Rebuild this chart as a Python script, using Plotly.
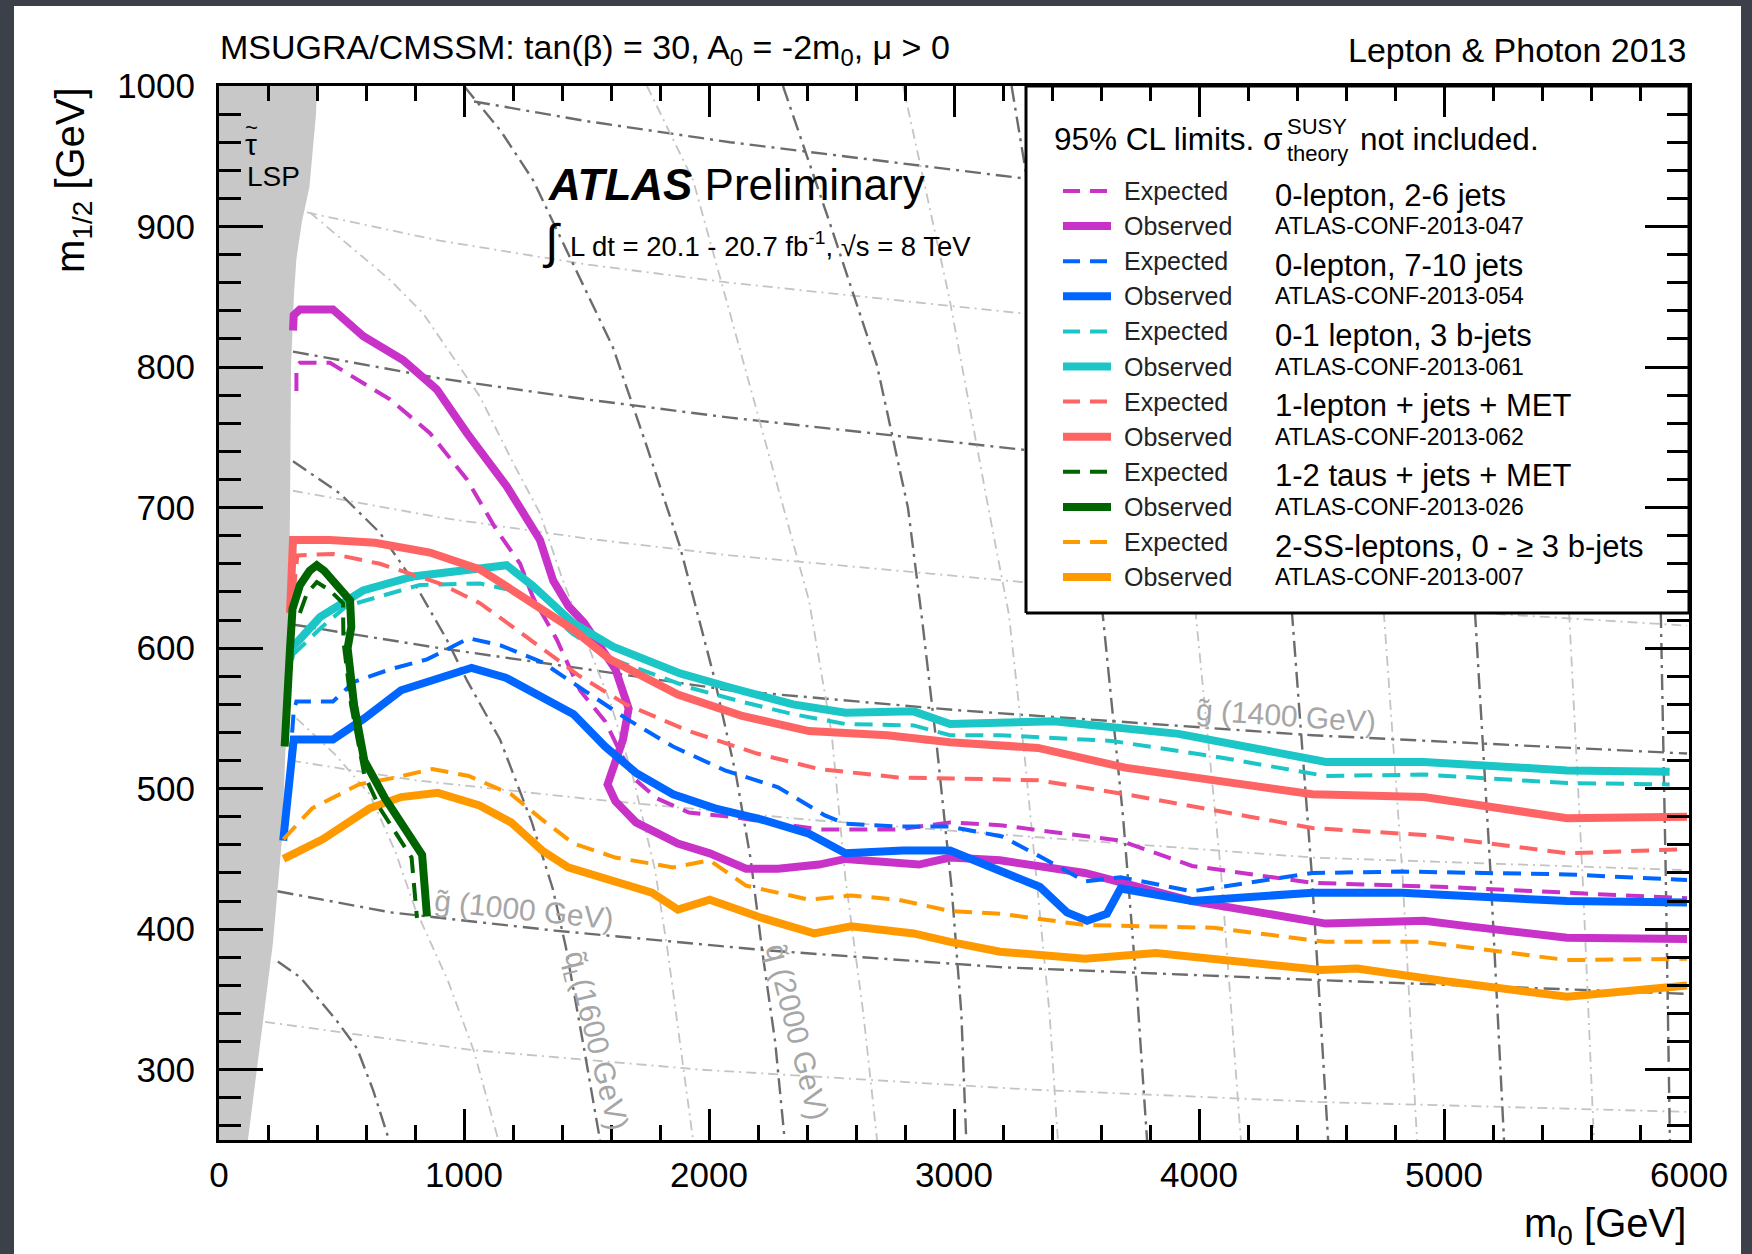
import plotly.graph_objects as go

# ---------------- exclusion contours: m0 [GeV] vs m1/2 [GeV] ----------------
# 0-lepton, 2-6 jets (ATLAS-CONF-2013-047)
exp_047_m0 = [316, 316, 330, 453, 698, 861, 1012, 1133, 1229, 1282, 1379, 1473, 1576, 1640, 1702, 1788, 1918, 2088, 2449, 2771, 2984, 3188, 3680, 3972, 4463, 5008, 5992]
exp_047_m12 = [783, 800, 803, 803, 777, 753, 720, 684, 660, 636, 606, 570, 548, 525, 506, 493, 483, 480, 471, 471, 476, 474, 463, 445, 433, 430, 422]
obs_047_m0 = [302, 305, 330, 465, 589, 751, 889, 1012, 1175, 1310, 1364, 1426, 1490, 1618, 1672, 1649, 1586, 1618, 1702, 1873, 2003, 2151, 2282, 2449, 2557, 2857, 2984, 3188, 3534, 3972, 4518, 4918, 5102, 5502, 5992]
obs_047_m12 = [826, 837, 841, 841, 822, 805, 784, 753, 715, 677, 648, 630, 618, 585, 557, 535, 503, 491, 476, 461, 454, 443, 443, 446, 450, 446, 451, 449, 440, 420, 404, 406, 402, 394, 393]

# 0-lepton, 7-10 jets (ATLAS-CONF-2013-054)
exp_054_m0 = [290, 305, 316, 465, 551, 700, 849, 1020, 1149, 1319, 1490, 1661, 1853, 2065, 2282, 2473, 2557, 2771, 2984, 3196, 3370, 3535, 3680, 3972, 4463, 4829, 5502, 5992]
exp_054_m12 = [520, 555, 562, 562, 576, 585, 592, 607, 602, 590, 570, 550, 530, 513, 501, 481, 475, 473, 473, 466, 450, 434, 437, 427, 440, 441, 439, 435]
obs_054_m0 = [262, 280, 305, 465, 593, 743, 893, 1031, 1170, 1319, 1447, 1576, 1704, 1853, 2024, 2216, 2408, 2557, 2792, 2984, 3155, 3351, 3461, 3543, 3624, 3680, 3972, 4463, 4829, 5502, 5992]
obs_054_m12 = [463, 500, 535, 535, 550, 570, 579, 586, 579, 565, 553, 530, 511, 496, 486, 478, 468, 454, 456, 456, 444, 430, 412, 406, 411, 429, 420, 426, 426, 420, 419]

# 0-1 lepton, 3 b-jets (ATLAS-CONF-2013-061)
exp_061_m0 = [300, 420, 521, 820, 1065, 1200, 1310, 1445, 1608, 1918, 2131, 2343, 2557, 2835, 2984, 3188, 3643, 4061, 4518, 4918, 5502, 5921]
exp_061_m12 = [595, 615, 630, 645, 646, 641, 630, 610, 592, 572, 562, 553, 546, 545, 538, 538, 534, 523, 509, 510, 504, 503]
obs_061_m0 = [290, 302, 412, 588, 792, 996, 1174, 1283, 1445, 1608, 1882, 2086, 2343, 2557, 2835, 2984, 3188, 3407, 3917, 4518, 4918, 5502, 5921]
obs_061_m12 = [592, 601, 622, 641, 651, 655, 659, 644, 618, 601, 582, 572, 560, 554, 555, 546, 547, 548, 539, 519, 519, 513, 512]

# 1-lepton + jets + MET (ATLAS-CONF-2013-062)
exp_062_m0 = [305, 320, 465, 657, 902, 1065, 1200, 1338, 1473, 1661, 1918, 2196, 2449, 2771, 3090, 3343, 3735, 4463, 4918, 5502, 5992]
exp_062_m12 = [640, 666, 667, 660, 646, 632, 615, 597, 580, 560, 541, 525, 514, 508, 507, 506, 495, 472, 467, 454, 457]
obs_062_m0 = [290, 302, 453, 637, 861, 1065, 1200, 1319, 1447, 1596, 1873, 2131, 2408, 2727, 2984, 3343, 3698, 4463, 4918, 5502, 5992]
obs_062_m12 = [625, 677, 677, 675, 668, 656, 641, 628, 613, 592, 567, 552, 541, 538, 533, 529, 515, 496, 494, 479, 480]

# 1-2 taus + jets + MET (ATLAS-CONF-2013-026)
exp_026_m0 = [330, 359, 399, 453, 506, 508, 539, 593, 657, 786, 808]
exp_026_m12 = [625, 639, 647, 641, 632, 605, 560, 510, 486, 451, 408]
obs_026_m0 = [268, 275, 290, 300, 331, 370, 399, 430, 480, 535, 540, 525, 551, 593, 678, 829, 849]
obs_026_m12 = [530, 560, 600, 628, 645, 655, 659, 655, 645, 634, 615, 600, 560, 520, 493, 453, 409]

# 2-SS-leptons, 0 - >=3 b-jets (ATLAS-CONF-2013-007)
exp_007_m0 = [263, 380, 571, 722, 871, 1020, 1192, 1319, 1447, 1618, 1853, 2003, 2151, 2408, 2580, 2771, 2984, 3188, 3535, 4061, 4518, 4918, 5502, 5992]
exp_007_m12 = [464, 486, 503, 508, 514, 509, 496, 478, 461, 451, 444, 449, 431, 421, 424, 421, 413, 411, 403, 401, 391, 391, 378, 379]
obs_007_m0 = [263, 423, 615, 743, 893, 1063, 1192, 1319, 1425, 1618, 1767, 1873, 2003, 2216, 2429, 2580, 2835, 2984, 3188, 3535, 3824, 4498, 4645, 5008, 5502, 5992]
obs_007_m12 = [450, 464, 486, 494, 497, 488, 476, 456, 444, 434, 426, 414, 421, 408, 397, 402, 397, 391, 384, 379, 383, 371, 372, 363, 352, 360]

# ---------------- stau-LSP excluded region boundary ----------------
lsp_m0 = [0, 400, 396, 369, 338, 316, 306, 294, 290, 284, 273, 257, 220, 167, 118, 0, 0]
lsp_m12 = [1000, 1000, 980, 928, 903, 877, 852, 800, 700, 620, 535, 464, 390, 316, 250, 250, 1000]

# ---------------- iso-mass contours ----------------
g800_m0 = [188, 1033, 1971, 3300, 4500, 5992]
g800_m12 = [334, 314, 300, 286, 277, 270]
g1000_m0 = [239, 700, 1371, 2232, 3188, 4463, 5992]
g1000_m12 = [427, 412, 399, 385, 373, 364, 354]
g1200_m0 = [294, 800, 1490, 2400, 3300, 4463, 5992]
g1200_m12 = [520, 506, 493, 478, 466, 451, 442]
g1400_m0 = [294, 900, 1500, 2086, 3000, 4463, 5992]
g1400_m12 = [617, 600, 585, 570, 556, 538, 525]
g1600_m0 = [302, 900, 1500, 2086, 3343, 4500, 5992]
g1600_m12 = [712, 693, 678, 666, 646, 632, 616]
g1800_m0 = [302, 900, 1500, 2086, 3343, 6000]
g1800_m12 = [811, 792, 777, 764, 740, 710]
g2000_m0 = [359, 900, 1500, 2086, 3343, 6000]
g2000_m12 = [910, 890, 873, 860, 837, 800]
g2200_m0 = [1041, 1500, 2086, 3343, 6000]
g2200_m12 = [989, 975, 960, 933, 890]

q1200_m0 = [240, 330, 408, 480, 564, 630, 694]
q1200_m12 = [377, 366, 350, 335, 315, 285, 250]
q1400_m0 = [316, 470, 615, 720, 800, 935, 1041, 1140]
q1400_m12 = [550, 525, 496, 455, 415, 363, 313, 250]
q1600_m0 = [302, 494, 657, 792, 930, 1012, 1147, 1277, 1362, 1416, 1490, 1555]
q1600_m12 = [733, 710, 682, 648, 606, 577, 535, 476, 429, 387, 315, 250]
q1800_m0 = [371, 698, 834, 956, 1065, 1200, 1310, 1404, 1500, 1600, 1690, 1780, 1830, 1890, 1935]
q1800_m12 = [910, 862, 838, 807, 779, 732, 696, 648, 605, 560, 508, 442, 386, 310, 250]
q2000_m0 = [1000, 1150, 1282, 1433, 1608, 1747, 1882, 1960, 2020, 2110, 2170, 2216, 2270, 2309]
q2000_m12 = [1000, 968, 933, 878, 814, 743, 672, 620, 580, 510, 450, 386, 320, 250]
q2200_m0 = [1747, 1935, 2086, 2250, 2408, 2500, 2557, 2630, 2686]
q2200_m12 = [1000, 933, 838, 735, 634, 540, 436, 340, 250]
q2400_m0 = [2302, 2494, 2686, 2812, 2870, 2930, 2990, 3030, 3050]
q2400_m12 = [1000, 902, 801, 700, 620, 530, 430, 340, 250]
q2600_m0 = [2792, 2980, 3140, 3224, 3290, 3340, 3390, 3424]
q2600_m12 = [1000, 850, 700, 624, 520, 430, 340, 250]
q2800_m0 = [3235, 3330, 3430, 3525, 3607, 3690, 3745, 3788]
q2800_m12 = [1000, 900, 800, 710, 624, 480, 360, 250]
q3000_m0 = [3700, 3860, 3987, 4090, 4171]
q3000_m12 = [1000, 800, 624, 440, 250]
q3200_m0 = [4150, 4280, 4380, 4460, 4527]
q3200_m12 = [1000, 800, 624, 440, 250]
q3400_m0 = [4570, 4670, 4755, 4830, 4890]
q3400_m12 = [1000, 800, 624, 440, 250]
q3600_m0 = [4950, 5050, 5127, 5190, 5245]
q3600_m12 = [1000, 800, 624, 440, 250]
q3800_m0 = [5350, 5440, 5511, 5565, 5612]
q3800_m12 = [1000, 800, 624, 440, 250]
q4000_m0 = [5750, 5830, 5885, 5905, 5922]
q4000_m12 = [1000, 800, 624, 440, 250]

# ---------------- legend texts ----------------
legend_colors = ["#C832C8", "#0066FF", "#1CC6C6", "#FF6464", "#006400", "#FF9900"]
legend_analyses = ["0-lepton, 2-6 jets", "0-lepton, 7-10 jets", "0-1 lepton, 3 b-jets",
                   "1-lepton + jets + MET", "1-2 taus + jets + MET", "2-SS-leptons, 0 - \u2265 3 b-jets"]
legend_refs = ["ATLAS-CONF-2013-047", "ATLAS-CONF-2013-054", "ATLAS-CONF-2013-061",
               "ATLAS-CONF-2013-062", "ATLAS-CONF-2013-026", "ATLAS-CONF-2013-007"]

x_ticks = [0, 1000, 2000, 3000, 4000, 5000, 6000]
y_ticks = [300, 400, 500, 600, 700, 800, 900, 1000]

# ---------------- geometry (pixels) ----------------
W, H = 1752, 1254
L, R, T, B = 219, 1689, 86, 1140
X0, X1, Y0, Y1 = 0, 6000, 250, 1000
FONT = "Liberation Sans, Arial, Helvetica, sans-serif"
SLIDE = "#3c4049"


def px(X):
    return (X - L) / (R - L)


def py(Y):
    return (B - Y) / (B - T)


def m0_of(X):
    return X0 + (X - L) / (R - L) * (X1 - X0)


def m12_of(Y):
    return Y1 - (Y - T) / (B - T) * (Y1 - Y0)


fig = go.Figure()

# stau LSP region
fig.add_trace(go.Scatter(x=lsp_m0, y=lsp_m12, mode="lines", fill="toself",
                         fillcolor="#c8c8c8", line=dict(width=0), hoverinfo="skip"))

DARK = dict(color="#6c6c6c", width=2.4, dash="16px,6px,3px,6px")
LIGHT = dict(color="#c4c4c4", width=1.8, dash="10px,5px,2px,5px")

iso_lines = [
    (g800_m0, g800_m12, LIGHT), (g1000_m0, g1000_m12, DARK), (g1200_m0, g1200_m12, LIGHT),
    (g1400_m0, g1400_m12, DARK), (g1600_m0, g1600_m12, LIGHT), (g1800_m0, g1800_m12, DARK),
    (g2000_m0, g2000_m12, LIGHT), (g2200_m0, g2200_m12, DARK),
    (q1200_m0, q1200_m12, DARK), (q1400_m0, q1400_m12, LIGHT), (q1600_m0, q1600_m12, DARK),
    (q1800_m0, q1800_m12, LIGHT), (q2000_m0, q2000_m12, DARK), (q2200_m0, q2200_m12, LIGHT),
    (q2400_m0, q2400_m12, DARK), (q2600_m0, q2600_m12, LIGHT), (q2800_m0, q2800_m12, DARK),
    (q3000_m0, q3000_m12, LIGHT), (q3200_m0, q3200_m12, DARK), (q3400_m0, q3400_m12, LIGHT),
    (q3600_m0, q3600_m12, DARK), (q3800_m0, q3800_m12, LIGHT), (q4000_m0, q4000_m12, DARK),
]
for xs, ys, st in iso_lines:
    fig.add_trace(go.Scatter(x=xs, y=ys, mode="lines", line=st, hoverinfo="skip"))

# legend box (white, covers the iso-mass lines)
LEG_L, LEG_B = 1026, 613
lb_x = [m0_of(LEG_L), X1, X1, m0_of(LEG_L), m0_of(LEG_L)]
lb_y = [m12_of(LEG_B), m12_of(LEG_B), Y1, Y1, m12_of(LEG_B)]
fig.add_trace(go.Scatter(x=lb_x, y=lb_y, mode="lines", fill="toself", fillcolor="white",
                         line=dict(color="black", width=3), hoverinfo="skip"))

# limit curves
DASH = "18px,10px"
curves = [
    (exp_047_m0, exp_047_m12, obs_047_m0, obs_047_m12, legend_colors[0]),
    (exp_054_m0, exp_054_m12, obs_054_m0, obs_054_m12, legend_colors[1]),
    (exp_061_m0, exp_061_m12, obs_061_m0, obs_061_m12, legend_colors[2]),
    (exp_062_m0, exp_062_m12, obs_062_m0, obs_062_m12, legend_colors[3]),
    (exp_007_m0, exp_007_m12, obs_007_m0, obs_007_m12, legend_colors[5]),
    (exp_026_m0, exp_026_m12, obs_026_m0, obs_026_m12, legend_colors[4]),
]
for ex, ey, ox, oy, col in curves:
    fig.add_trace(go.Scatter(x=ex, y=ey, mode="lines", line=dict(color=col, width=4, dash=DASH),
                             hoverinfo="skip"))
    fig.add_trace(go.Scatter(x=ox, y=oy, mode="lines", line=dict(color=col, width=8),
                             hoverinfo="skip"))

ann = []
shapes = []

# page background (white panel on dark slide)
shapes.append(dict(type="rect", xref="paper", yref="paper", x0=px(14), x1=px(1741),
                   y0=py(1262), y1=py(6), fillcolor="white", line=dict(width=0), layer="below"))


def text(X, Y, s, size, xanchor="left", yanchor="middle", color="black", angle=0):
    ann.append(dict(x=px(X), y=py(Y), xref="paper", yref="paper", text=s, showarrow=False,
                    xanchor=xanchor, yanchor=yanchor, textangle=angle,
                    font=dict(family=FONT, size=size, color=color)))


# titles
text(218, 50, "MSUGRA/CMSSM: tan(\u03b2) = 30, A<sub>0</sub> = -2m<sub>0</sub>, \u03bc > 0", 34)
text(1688, 50, "Lepton &amp; Photon 2013", 34, xanchor="right")
text(73, 180, "m<sub>1/2</sub> [GeV]", 40, xanchor="center", angle=-90)
text(1688, 1226, "m<sub>0</sub> [GeV]", 40, xanchor="right")

# ATLAS label
text(546, 184, "<b><i>ATLAS</i></b> Preliminary", 44)
text(540, 242, "\u222b", 48)
text(568, 244, "L dt = 20.1 - 20.7 fb<sup>-1</sup>, \u221as = 8 TeV", 27.5)

# LSP label (tau with tilde drawn separately)
text(251, 144, "\u03c4", 30, xanchor="center")
text(251, 127, "~", 22, xanchor="center")
text(273, 176, "LSP", 28, xanchor="center")

# iso-mass labels (data coords)
GRAY = "#a6a6a6"
for xm, ym, s, ang in [(1245, 414, "g\u0303 (1000 GeV)", 6), (4354, 552, "g\u0303 (1400 GeV)", 4),
                       (1535, 321, "q\u0303<sub>L</sub>(1600 GeV)", 76),
                       (2359, 327, "q\u0303 (2000 GeV)", 76)]:
    ann.append(dict(x=xm, y=ym, xref="x", yref="y", text=s, showarrow=False, textangle=ang,
                    xanchor="center", yanchor="middle",
                    font=dict(family=FONT, size=30, color=GRAY)))

# legend content
text(1052, 139, "95% CL limits. \u03c3", 31.5)
text(1285, 126, "SUSY", 22)
text(1285, 153, "theory", 22)
text(1358, 139, "not included.", 31.5)

row0, step = 191, 35.1
for i in range(6):
    ye = row0 + 2 * i * step
    yo = ye + step
    col = legend_colors[i]
    shapes.append(dict(type="line", xref="paper", yref="paper", x0=px(1063), x1=px(1110),
                       y0=py(ye), y1=py(ye), line=dict(color=col, width=4, dash="17px,10px"),
                       layer="above"))
    shapes.append(dict(type="line", xref="paper", yref="paper", x0=px(1063), x1=px(1111),
                       y0=py(yo), y1=py(yo), line=dict(color=col, width=8), layer="above"))
    text(1122, ye, "Expected", 25, color="#222222")
    text(1122, yo, "Observed", 25, color="#222222")
    text(1273, ye + 4, legend_analyses[i], 31)
    text(1273, yo, legend_refs[i], 23)

axis_common = dict(showline=True, linecolor="black", linewidth=3, mirror="allticks",
                   ticks="inside", tickcolor="black", tickwidth=3, showgrid=False,
                   zeroline=False, tickfont=dict(family=FONT, size=35, color="black"))

fig.update_layout(
    width=W, height=H, autosize=False,
    margin=dict(l=L, r=W - R, t=T, b=H - B, pad=0),
    paper_bgcolor=SLIDE, plot_bgcolor="white",
    showlegend=False,
    annotations=ann, shapes=shapes,
    xaxis=dict(range=[X0, X1], tickvals=x_ticks, ticktext=[str(v) for v in x_ticks],
               ticklen=31, ticklabelstandoff=2,
               minor=dict(ticks="inside", ticklen=15, tickwidth=3, tickcolor="black",
                          dtick=200, tick0=0, showgrid=False), **axis_common),
    yaxis=dict(range=[Y0, Y1], tickvals=y_ticks, ticktext=[str(v) for v in y_ticks],
               ticklen=44, ticklabelstandoff=14,
               minor=dict(ticks="inside", ticklen=22, tickwidth=3, tickcolor="black",
                          dtick=20, tick0=0, showgrid=False), **axis_common),
)

page_js = ("document.body.style.margin='0px';"
           "document.body.style.overflow='hidden';"
           "document.body.style.backgroundColor='" + SLIDE + "';")
fig.write_html("out.html", post_script=page_js, config={"displayModeBar": False})
